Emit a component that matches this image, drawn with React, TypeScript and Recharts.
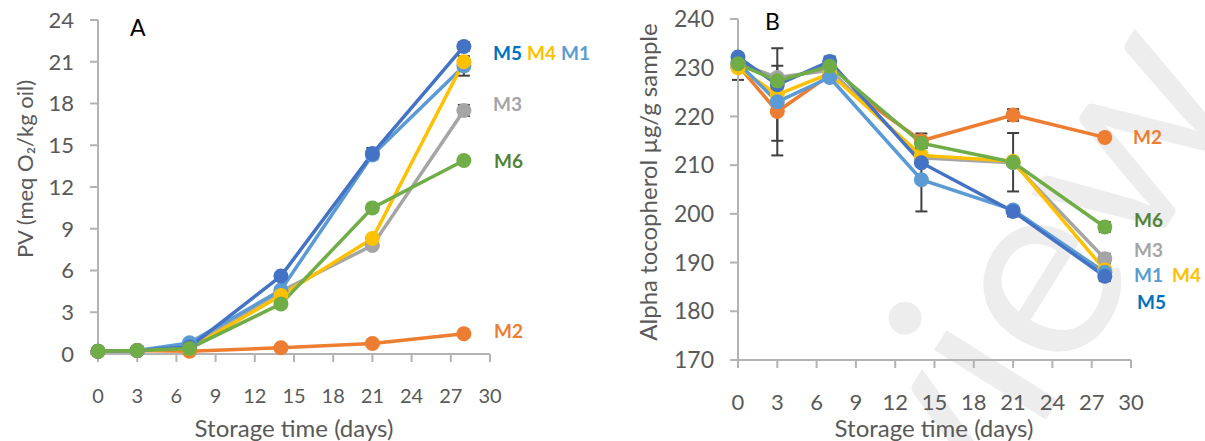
import React from "react";
import { LineChart, Line, XAxis, YAxis, ErrorBar } from "recharts";

// sampling days
const days = [0, 3, 7, 14, 21, 28];
const dayTicks = [0, 3, 6, 9, 12, 15, 18, 21, 24, 27, 30];

// panel A - peroxide value
const pvTicks = [0, 3, 6, 9, 12, 15, 18, 21, 24];
const pvM1 = [0.2, 0.25, 0.8, 4.6, 14.3, 20.7];
const pvM2 = [0.2, 0.25, 0.2, 0.45, 0.75, 1.45];
const pvM3 = [0.2, 0.25, 0.5, 4.5, 7.8, 17.5];
const pvM4 = [0.2, 0.25, 0.4, 4.2, 8.3, 21.0];
const pvM5 = [0.2, 0.25, 0.5, 5.6, 14.4, 22.1];
const pvM6 = [0.2, 0.25, 0.4, 3.6, 10.5, 13.9];
const pvM1Err = [0, 0, 0, 0, 0, 0.7];
const pvM3Err = [0, 0, 0, 0, 0, 0.4];
const pvM5Err = [0, 0, 0, 0, 0.4, 0.3];

// panel B - alpha tocopherol
const tocTicks = [170, 180, 190, 200, 210, 220, 230, 240];
const tocM1 = [231, 223, 228, 207, 200.8, 188];
const tocM2 = [230.5, 221, 228.5, 215, 220.3, 215.7];
const tocM3 = [231, 228, 229.5, 211.5, 210.5, 190.8];
const tocM4 = [230, 224.5, 228.8, 212, 210.8, 188.5];
const tocM5 = [232.2, 226.5, 231.3, 210.5, 200.5, 187.2];
const tocM6 = [230.8, 227.3, 230.3, 214.5, 210.6, 197.3];
const tocM1Err = [0, 11, 0, 6.5, 0, 0];
const tocM2Err = [0, 6, 0, 1.5, 1.2, 0];
const tocM3Err = [0, 2.4, 0, 0, 0, 1];
const tocM4Err = [2.5, 0, 0, 0, 0, 0];
const tocM5Err = [0, 0, 1, 0, 1, 1];
const tocM6Err = [0, 0, 0, 0, 6, 1];

const C = {
  m1: "#5B9BD5",
  m2: "#ED7D31",
  m3: "#A5A5A5",
  m4: "#FFC000",
  m5: "#4472C4",
  m6: "#70AD47",
};

const pvData = days.map((d, i) => ({
  day: d,
  m1: pvM1[i], m2: pvM2[i], m3: pvM3[i], m4: pvM4[i], m5: pvM5[i], m6: pvM6[i],
  m1e: pvM1Err[i], m3e: pvM3Err[i], m5e: pvM5Err[i],
}));

const tocData = days.map((d, i) => ({
  day: d,
  m1: tocM1[i], m2: tocM2[i], m3: tocM3[i], m4: tocM4[i], m5: tocM5[i], m6: tocM6[i],
  m1e: tocM1Err[i], m2e: tocM2Err[i], m3e: tocM3Err[i], m4e: tocM4Err[i], m5e: tocM5Err[i], m6e: tocM6Err[i],
}));

const FONT = "Lato, 'Open Sans', sans-serif";
const AXIS = "#B3B3B3";
const TXT = "#595959";
const ERR = "#404040";

const series = (key: string, color: string, errKey?: string) => (
  <Line
    key={key}
    dataKey={key}
    stroke={color}
    strokeWidth={3.5}
    dot={{ r: 7.5, fill: color, stroke: color, strokeWidth: 0 }}
    activeDot={false}
    isAnimationActive={false}
  >
    {errKey ? <ErrorBar dataKey={errKey} width={6} strokeWidth={2} stroke={ERR} direction="y" /> : null}
  </Line>
);

const abs = (left: number, top: number, extra: React.CSSProperties = {}): React.CSSProperties => ({
  position: "absolute",
  left,
  top,
  fontFamily: FONT,
  whiteSpace: "nowrap",
  lineHeight: 1,
  ...extra,
});

const tag = (text: string, color: string, left: number, cy: number) => (
  <span style={abs(left, cy - 10, { color, fontSize: 19, fontWeight: 700 })}>{text}</span>
);

export default function App() {
  return (
    <div style={{ position: "absolute", left: 0, top: 0, width: 1205, height: 441, background: "#fff", overflow: "hidden" }}>
      <svg width={1205} height={441} style={{ position: "absolute", left: 0, top: 0 }}>
        <text
          x={0}
          y={0}
          transform="translate(1030 445) rotate(-58)"
          textAnchor="middle"
          fontFamily={FONT}
          fontSize={260}
          fill="#EDEDED"
        >
          Review
        </text>
      </svg>

      {/* Panel A */}
      <div style={{ position: "absolute", left: 0, top: 0 }}>
        <LineChart width={600} height={441} data={pvData} margin={{ top: 20, right: 110, bottom: 27, left: 58 }}>
          <XAxis
            dataKey="day"
            type="number"
            domain={[0, 30]}
            ticks={dayTicks}
            interval={0}
            height={60}
            stroke={AXIS}
            strokeWidth={2}
            tickSize={8}
            tickMargin={27}
            tick={{ fill: TXT, fontSize: 20, fontFamily: FONT }}
          />
          <YAxis
            domain={[0, 24]}
            ticks={pvTicks}
            interval={0}
            width={40}
            stroke={AXIS}
            strokeWidth={2}
            tickSize={8}
            tickMargin={16}
            tick={{ fill: TXT, fontSize: 22, fontFamily: FONT }}
          />
          {series("m2", C.m2)}
          {series("m3", C.m3, "m3e")}
          {series("m1", C.m1, "m1e")}
          {series("m4", C.m4)}
          {series("m5", C.m5, "m5e")}
          {series("m6", C.m6)}
        </LineChart>
      </div>

      {/* Panel B */}
      <div style={{ position: "absolute", left: 600, top: 0 }}>
        <LineChart width={605} height={441} data={tocData} margin={{ top: 19, right: 74, bottom: 21, left: 88 }}>
          <XAxis
            dataKey="day"
            type="number"
            domain={[0, 30]}
            ticks={dayTicks}
            interval={0}
            height={60}
            stroke={AXIS}
            strokeWidth={2}
            tickSize={8}
            tickMargin={26}
            tick={{ fill: TXT, fontSize: 22, fontFamily: FONT }}
          />
          <YAxis
            domain={[170, 240]}
            ticks={tocTicks}
            interval={0}
            width={50}
            stroke={AXIS}
            strokeWidth={2}
            tickSize={8}
            tickMargin={16}
            tick={{ fill: TXT, fontSize: 23, fontFamily: FONT }}
          />
          {series("m2", C.m2, "m2e")}
          {series("m3", C.m3, "m3e")}
          {series("m4", C.m4, "m4e")}
          {series("m1", C.m1, "m1e")}
          {series("m5", C.m5, "m5e")}
          {series("m6", C.m6, "m6e")}
        </LineChart>
      </div>

      {/* panel letters */}
      <span style={abs(130, 16, { fontSize: 23, color: "#000" })}>A</span>
      <span style={abs(765, 10, { fontSize: 23, color: "#000" })}>B</span>

      {/* axis titles */}
      <span style={abs(294, 416, { fontSize: 24, color: TXT, transform: "translateX(-50%)" })}>Storage time (days)</span>
      <span style={abs(934, 416, { fontSize: 24, color: TXT, transform: "translateX(-50%)" })}>Storage time (days)</span>
      <span style={abs(25, 169, { fontSize: 22, color: TXT, transform: "translate(-50%, -50%) rotate(-90deg)" })}>PV (meq O₂/kg oil)</span>
      <span style={abs(648, 182, { fontSize: 24, color: TXT, transform: "translate(-50%, -50%) rotate(-90deg)" })}>Alpha tocopherol µg/g sample</span>

      {/* end labels A */}
      {tag("M5", "#0070C0", 493, 53)}
      {tag("M4", C.m4, 527, 53)}
      {tag("M1", C.m1, 561, 53)}
      {tag("M3", C.m3, 493, 104)}
      {tag("M6", "#548235", 494, 161)}
      {tag("M2", C.m2, 494, 331)}

      {/* end labels B */}
      {tag("M2", C.m2, 1133, 137)}
      {tag("M6", "#548235", 1134, 220)}
      {tag("M3", C.m3, 1134, 250)}
      {tag("M1", C.m1, 1134, 275)}
      {tag("M4", C.m4, 1172, 275)}
      {tag("M5", "#0070C0", 1137, 302)}
    </div>
  );
}
